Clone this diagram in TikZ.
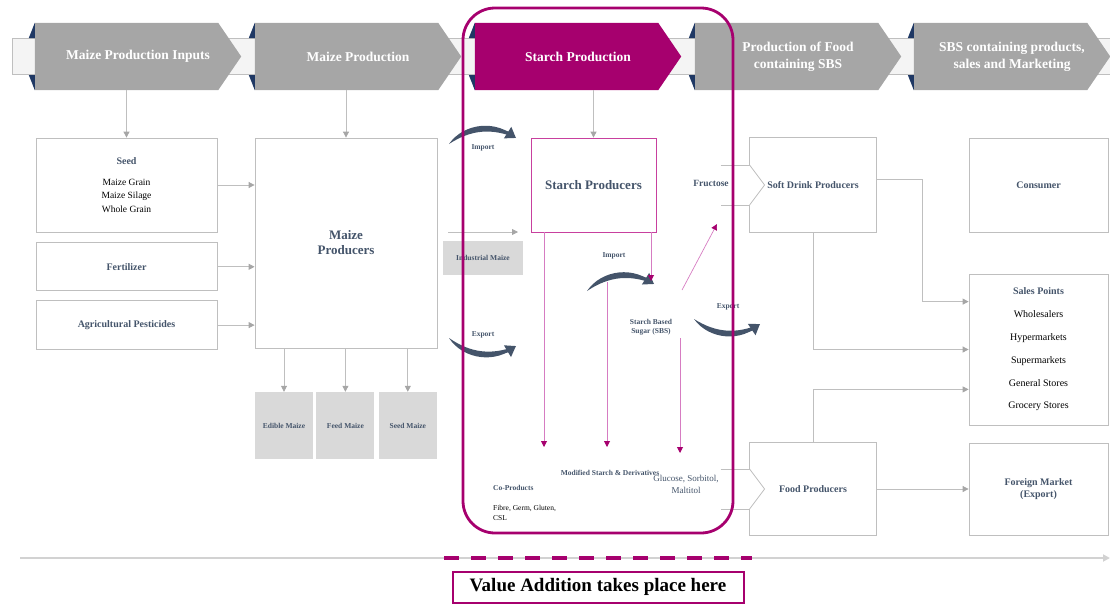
\documentclass[tikz,border=0pt]{standalone}
\usepackage{fontspec}
\setmainfont{Liberation Serif}
\usetikzlibrary{positioning,arrows.meta,calc,backgrounds}

\definecolor{chevgray}{HTML}{A6A6A6}
\definecolor{deepmag}{HTML}{A6006E}
\definecolor{slate}{HTML}{44546A}
\definecolor{navy}{HTML}{1F3864}
\definecolor{linegray}{HTML}{BFBFBF}
\definecolor{tilegray}{HTML}{D9D9D9}
\definecolor{bandfill}{HTML}{F4F4F4}
\definecolor{pinkline}{HTML}{D67CC2}
\definecolor{pinkbox}{HTML}{C8409E}

\begin{document}
\begin{tikzpicture}[x=1pt, y=-1pt,
    font=\fontsize{10}{12}\selectfont,
    chevbox/.style={minimum width=206pt, minimum height=67pt, inner sep=0pt,
                    text=white, align=center, font=\fontsize{13.5}{17}\selectfont\bfseries},
    box/.style={draw=linegray, line width=0.8pt, align=center, inner sep=2pt},
    notchbox/.style={box, draw=none},
    head/.style={text=slate, font=\fontsize{10}{12}\selectfont\bfseries},
    tile/.style={fill=tilegray, align=center, text=slate, inner sep=1pt,
                 minimum width=58pt, minimum height=67pt,
                 font=\fontsize{7.5}{9}\selectfont\bfseries},
    tag/.style={text=slate, inner sep=1pt, align=center,
                font=\fontsize{7.5}{9}\selectfont\bfseries},
    arr/.style={-{Triangle[length=6pt,width=6pt,color=chevgray]}, draw=linegray, line width=0.8pt},
    pinkarr/.style={-{Triangle[length=6pt,width=6pt,color=deepmag]}, draw=pinkline, line width=0.9pt},
    swoosh/.style={fill=slate},
    swooshtip/.style={-{Triangle[length=10pt,width=13pt]}, draw=slate, line width=2.5pt},
  ]
  \useasboundingbox (0,0) rectangle (1110,603);

  % ===== stage band =====
  \node[chevbox] (chevA) at (138,56.5) {Maize Production Inputs};
  \node[chevbox] (chevB) at (358,56.5) {Maize Production};
  \node[chevbox] (chevC) at (578,56.5) {Starch Production};
  \node[chevbox] (chevD) at (798,56.5) {Production of Food\\containing SBS};
  \node[chevbox, minimum width=196pt] (chevE) at (1012,56.5) {SBS containing products,\\sales and Marketing};
  \begin{scope}[on background layer]
    \filldraw[fill=bandfill, draw=linegray] (12,38) rectangle (1110,74);
    \foreach \c/\f in {chevA/chevgray,chevB/chevgray,chevC/deepmag,chevD/chevgray,chevE/chevgray} {
      \fill[\f] (\c.north west) -- ($(\c.north east)+(-23,0)$) -- (\c.east)
        -- ($(\c.south east)+(-23,0)$) -- (\c.south west) -- cycle;
      \fill[navy] ($(\c.west)+(-6,-18.5)$) -- (\c.north west) -- ($(\c.west)+(0,-18.5)$) -- cycle;
      \fill[navy] ($(\c.west)+(-6,18.5)$) -- (\c.south west) -- ($(\c.west)+(0,18.5)$) -- cycle;
    }
  \end{scope}

  % ===== maize inputs and maize producers =====
  \node[box, minimum width=181pt, minimum height=94pt, font=\fontsize{9.5}{13.5}\selectfont]
    (seed) at (126.5,185)
    {{\fontsize{10}{12}\selectfont\bfseries\color{slate}Seed}\\[7pt]
     Maize Grain\\ Maize Silage\\ Whole Grain};
  \node[box, head, minimum width=181pt, minimum height=48pt, below=10pt of seed] (fert) {Fertilizer};
  \node[box, head, minimum width=181pt, minimum height=49pt, below=9pt of fert] (pest) {Agricultural Pesticides};
  \node[box, head, minimum width=182pt, minimum height=210pt,
        font=\fontsize{13}{15}\selectfont\bfseries] (maize) at (346,243) {Maize\\Producers};
  \node[tile] (edible) at (284,425.5) {Edible Maize};
  \node[tile, right=3pt of edible] (feed) {Feed Maize};
  \node[tile, right=4pt of feed] (seedm) {Seed Maize};

  \draw[arr] (seed |- chevA.south) -- (seed);
  \draw[arr] (maize |- chevB.south) -- (maize);
  \draw[arr] (seed.east) -- (seed.east -| maize.west);
  \draw[arr] (fert.east) -- (fert.east -| maize.west);
  \draw[arr] (pest.east) -- (pest.east -| maize.west);
  \draw[arr] (maize.south -| edible) -- (edible);
  \draw[arr] (maize.south -| feed) -- (feed);
  \draw[arr] (maize.south -| seedm) -- (seedm);

  % ===== starch production =====
  \node[tile, minimum width=80pt, minimum height=34pt] (ind) at (483,258) {Industrial Maize};
  \node[box, draw=pinkbox, text=slate, minimum width=125pt, minimum height=94pt,
        font=\fontsize{13}{15}\selectfont\bfseries] (starch) at (593.5,185) {Starch Producers};
  \draw[arr] (starch |- chevC.south) -- (starch);
  \coordinate (indA) at (448,232);
  \coordinate (indB) at (518,232);
  \draw[arr] (indA) -- (indB);

  \node[tag] (impA) at (483,148) {Import};
  \node[tag] (expA) at (483,335) {Export};
  \node[tag] (impB) at (614,256) {Import};
  \node[tag] (expB) at (728,307) {Export};
  \node[tag, font=\fontsize{9.5}{11}\selectfont\bfseries] (fruct) at (711,183) {Fructose};
  \node[tag] (sbs) at (651,327) {Starch Based\\Sugar (SBS)};
  \node[tag] (modst) at (610,473) {Modified Starch \& Derivatives};
  \node[tag, font=\fontsize{9}{12}\selectfont] (gluc) at (686,484) {Glucose, Sorbitol,\\Maltitol};
  \node[tag, anchor=west] (coprod) at (492,488) {Co-Products};
  \node[anchor=west, align=left, inner sep=1pt, font=\fontsize{7.5}{10}\selectfont]
    (fibre) at (492,513) {Fibre, Germ, Gluten,\\CSL};

  % tapered import / export swooshes
  \coordinate (swAa) at (449,144);  \coordinate (swAb) at (516,138);
  \coordinate (swBa) at (449,338);  \coordinate (swBb) at (516,346);
  \coordinate (swCa) at (587,291);  \coordinate (swCb) at (654,284);
  \coordinate (swDa) at (694,319);  \coordinate (swDb) at (760,324);
  \fill[swoosh] (swAa) to[bend left=50] (swAb) to[bend right=28] (swAa);
  \fill[swoosh] (swBa) to[bend right=50] (swBb) to[bend left=28] (swBa);
  \fill[swoosh] (swCa) to[bend left=50] (swCb) to[bend right=28] (swCa);
  \fill[swoosh] (swDa) to[bend right=50] (swDb) to[bend left=28] (swDa);
  \draw[swooshtip] ($(swAa)!0.6!(swAb)+(0,-11)$) to[bend left=15] (swAb);
  \draw[swooshtip] ($(swBa)!0.6!(swBb)+(0,11)$) to[bend right=15] (swBb);
  \draw[swooshtip] ($(swCa)!0.6!(swCb)+(0,-11)$) to[bend left=15] (swCb);
  \draw[swooshtip] ($(swDa)!0.6!(swDb)+(0,11)$) to[bend right=15] (swDb);

  \coordinate (coEnd) at (544,447);
  \coordinate (modTop) at (607,282);  \coordinate (modEnd) at (607,447);
  \coordinate (sbsIn) at (651,281);
  \coordinate (sbsOut) at (680,338);  \coordinate (glucEnd) at (680,453);
  \coordinate (fructA) at (682,290);  \coordinate (fructB) at (717,224);
  \draw[pinkarr] (starch.south -| coEnd) -- (coEnd);
  \draw[pinkarr] (modTop) -- (modEnd);
  \draw[pinkarr] (starch.south -| sbsIn) -- (sbsIn);
  \draw[pinkarr] (sbsOut) -- (glucEnd);
  \draw[pinkarr, line width=0.7pt] (fructA) -- (fructB);

  % ===== food production and sales =====
  \node[notchbox, head, minimum width=126pt, minimum height=94pt] (soft) at (813,185) {Soft Drink Producers};
  \node[notchbox, head, minimum width=126pt, minimum height=92pt] (food) at (813,489) {Food Producers};
  \foreach \b in {soft,food} {
    \draw[linegray, line width=0.8pt] ($(\b.west)+(-29,-20)$) -- ($(\b.west)+(0,-20)$) -- (\b.north west)
      -- (\b.north east) -- (\b.south east) -- (\b.south west) -- ($(\b.west)+(0,20)$) -- ++(-29,0);
    \draw[linegray, line width=0.8pt] ($(\b.west)+(0,-20)$) -- ($(\b.west)+(15,0)$) -- ($(\b.west)+(0,20)$);
  }
  \node[box, head, minimum width=139pt, minimum height=94pt] (cons) at (1038.5,185) {Consumer};
  \node[box, minimum width=139pt, minimum height=151pt, font=\fontsize{10}{22.8}\selectfont]
    (sales) at (1038.5,349.5)
    {{\bfseries\color{slate}Sales Points}\\ Wholesalers\\ Hypermarkets\\ Supermarkets\\
     General Stores\\ Grocery Stores};
  \node[box, head, minimum width=139pt, minimum height=92pt] (foreign) at (1038.5,489) {Foreign Market\\(Export)};

  \draw[arr] ($(soft.east)+(0,-6)$) -- ++(46,0) |- ($(sales.north west)+(0,28)$);
  \draw[arr] (soft.south) |- (sales.west);
  \draw[arr] (food.north) |- ($(sales.south west)+(0,-36)$);
  \draw[arr] (food.east) -- (foreign.west);

  % ===== value addition =====
  \coordinate (lineL) at (20,558);  \coordinate (lineR) at (1110,558);
  \coordinate (dashL) at (444,558); \coordinate (dashR) at (752,558);
  \draw[line width=2pt, draw=linegray!70, -{Triangle[length=7pt,width=7pt]}] (lineL) -- (lineR);
  \draw[deepmag, line width=4pt, dash pattern=on 15pt off 12pt] (dashL) -- (dashR);
  \node[draw=deepmag, line width=2pt, minimum width=291pt, minimum height=31pt,
        font=\fontsize{19}{22}\selectfont\bfseries] (value) at (598,587) {Value Addition takes place here};
  \node[draw=deepmag, line width=2.8pt, rounded corners=32pt, minimum width=270pt,
        minimum height=525pt] (frame) at (598,270.5) {};

\end{tikzpicture}
\end{document}
